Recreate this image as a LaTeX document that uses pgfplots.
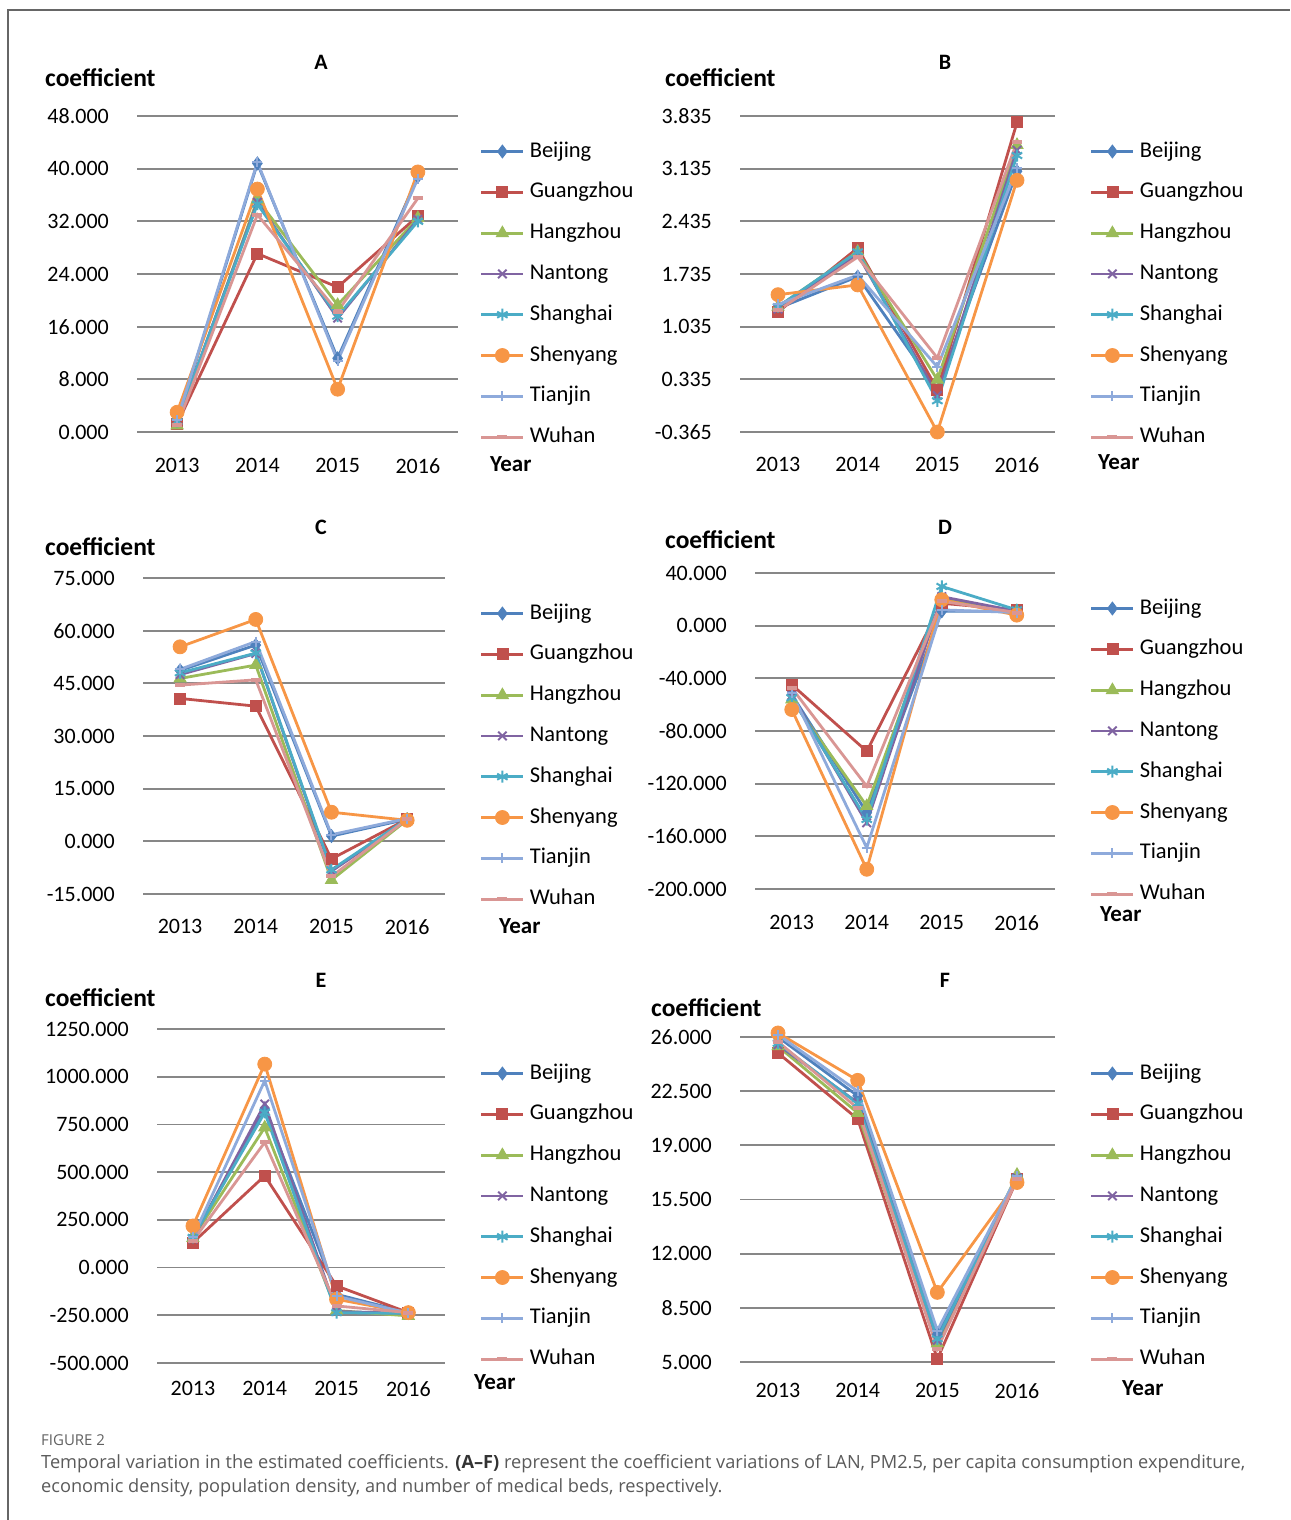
\documentclass[border=0pt]{standalone}
\usepackage{fontspec}
\setmainfont{Carlito}
\newfontfamily\capfont{Open Sans}
\usepackage{pgfplots}
\usepackage{pgfplotstable}
\pgfplotsset{compat=1.18}

\definecolor{cBJ}{HTML}{4F81BD}
\definecolor{cGZ}{HTML}{C0504D}
\definecolor{cHZ}{HTML}{9BBB59}
\definecolor{cNT}{HTML}{8064A2}
\definecolor{cSH}{HTML}{4BACC6}
\definecolor{cSY}{HTML}{F79646}
\definecolor{cTJ}{HTML}{8EAADB}
\definecolor{cWH}{HTML}{D99694}
\definecolor{capgray}{HTML}{5A5A5A}

\pgfplotstableread{
x BJ GZ HZ NT SH SY TJ WH
0 1.5 1.2 1.0 1.5 1.6 3.0 1.8 1.0
1 40.8 27.1 35.3 34.9 34.6 36.9 41.0 33.0
2 11.2 22.0 19.3 17.3 17.6 6.5 10.8 18.3
3 38.8 32.8 32.5 32.3 32.0 39.5 38.5 35.5
}\tA
\pgfplotstableread{
x BJ GZ HZ NT SH SY TJ WH
0 1.28 1.23 1.30 1.27 1.30 1.46 1.33 1.25
1 1.70 2.08 2.03 2.00 2.03 1.59 1.72 1.96
2 0.19 0.20 0.33 0.12 0.05 -0.365 0.50 0.62
3 3.10 3.75 3.45 3.38 3.31 2.98 3.14 3.49
}\tB
\pgfplotstableread{
x BJ GZ HZ NT SH SY TJ WH
0 48.7 40.7 46.4 47.5 48.0 55.4 49.0 44.5
1 55.9 38.5 50.2 53.5 53.6 63.2 56.9 46.0
2 1.5 -5.0 -11.0 -8.5 -8.1 8.3 1.9 -10.0
3 6.3 6.3 6.1 6.2 6.4 6.0 6.5 6.3
}\tC
\pgfplotstableread{
x BJ GZ HZ NT SH SY TJ WH
0 -52.3 -44.8 -56.1 -53.0 -54.8 -63.7 -51.0 -47.3
1 -142 -95.4 -137 -149.7 -147.2 -185 -168.7 -122
2 10.9 17 20 22 29.8 19.7 12 18.5
3 11 12 11 11 12 8 10 10
}\tD
\pgfplotstableread{
x BJ GZ HZ NT SH SY TJ WH
0 158 131 155 150 158 218 160 140
1 830 481 734 857 813 1066 979 656
2 -140 -96 -225 -230 -236 -166 -150 -201
3 -236 -236 -253 -240 -240 -236 -238 -236
}\tE
\pgfplotstableread{
x BJ GZ HZ NT SH SY TJ WH
0 26.0 24.97 25.4 25.5 25.6 26.26 26.15 25.7
1 22.2 20.7 21.1 21.75 21.7 23.2 22.5 21.4
2 6.8 5.2 6.2 6.4 6.5 9.5 7.03 5.85
3 16.9 16.8 17.1 16.9 16.9 16.6 17.0 16.8
}\tF

\pgfplotsset{
 sBJ/.style={color=cBJ, line width=2.8pt, mark=diamond*, mark size=6.5pt, mark options={solid, line width=0.8pt}},
 sGZ/.style={color=cGZ, line width=2.8pt, mark=square*, mark size=5.5pt, mark options={solid, line width=0.8pt}},
 sHZ/.style={color=cHZ, line width=2.8pt, mark=triangle*, mark size=7pt, mark options={solid, line width=0.8pt}},
 sNT/.style={color=cNT, line width=2.8pt, mark=x, mark size=6pt, mark options={solid, line width=2pt}},
 sSH/.style={color=cSH, line width=2.8pt, mark=asterisk, mark size=6pt, mark options={solid, line width=2pt}},
 sSY/.style={color=cSY, line width=2.8pt, mark=*, mark size=7pt, mark options={solid, line width=0.8pt}},
 sTJ/.style={color=cTJ, line width=2.8pt, mark=+, mark size=5pt, mark options={solid, line width=2pt}},
 sWH/.style={color=cWH, line width=2.8pt, mark=-, mark size=5pt, mark options={solid, line width=4pt}},
 panel/.style={
  scale only axis, anchor=south west, clip=false,
  axis line style={draw=none}, major tick length=0pt, tick style={draw=none},
  ymajorgrids, grid style={color=black!47, line width=1.8pt},
  xtick={0,1,2,3}, xticklabels={2013,2014,2015,2016},
  tick label style={font=\fontsize{22}{26}\selectfont},
  yticklabel style={anchor=east, inner sep=0pt, xshift=-28pt},
  xticklabel style={anchor=north, inner sep=0pt},
  legend cell align=left,
  legend image code/.code={\draw[mark repeat=2,mark phase=2,##1] plot coordinates {(0pt,0pt) (21pt,0pt) (42pt,0pt)};},
  legend style={draw=none, fill=none, anchor=north west, inner sep=0pt, outer sep=0pt,
    row sep=19.8pt, column sep=5pt, font=\fontsize{22.5}{26}\selectfont,
    nodes={inner sep=0pt, text height=16pt, text depth=5pt}},
 }
}

\newcommand{\plotall}[1]{%
 \addplot[sBJ] table[x=x,y=BJ]{#1};
 \addplot[sGZ] table[x=x,y=GZ]{#1};
 \addplot[sHZ] table[x=x,y=HZ]{#1};
 \addplot[sNT] table[x=x,y=NT]{#1};
 \addplot[sSH] table[x=x,y=SH]{#1};
 \addplot[sSY] table[x=x,y=SY]{#1};
 \addplot[sTJ] table[x=x,y=TJ]{#1};
 \addplot[sWH] table[x=x,y=WH]{#1};
 \legend{Beijing,Guangzhou,Hangzhou,Nantong,Shanghai,Shenyang,Tianjin,Wuhan}
}

\begin{document}
\begin{tikzpicture}
\useasboundingbox (0pt,0pt) rectangle (1290pt,-1520pt);
\draw[color=black!60, line width=1.3pt] (8pt,-1520pt) -- (8pt,-10pt) -- (1290pt,-10pt);

% A
\begin{axis}[panel, at={(137pt,-432pt)}, width=321pt, height=316pt,
  xmin=-0.5, xmax=3.5, ymin=0, ymax=48, ytick={0,8,16,24,32,40,48},
  yticklabels={0.000,8.000,16.000,24.000,32.000,40.000,48.000},
  xticklabel style={yshift=-26pt},
  legend style={at={(1.0685,0.9209)}}]
\plotall{\tA}
\end{axis}
% B
\begin{axis}[panel, at={(740pt,-432pt)}, width=315pt, height=316pt,
  xmin=-0.477, xmax=3.477, ymin=-0.365, ymax=3.835, ytick={-0.365,0.335,1.035,1.735,2.435,3.135,3.835},
  yticklabels={-0.365,0.335,1.035,1.735,2.435,3.135,3.835},
  xticklabel style={yshift=-25pt},
  legend style={at={(1.1111,0.9209)}}]
\plotall{\tB}
\end{axis}
% C
\begin{axis}[panel, at={(143pt,-894pt)}, width=302pt, height=316pt,
  xmin=-0.49, xmax=3.5, ymin=-15, ymax=75, ytick={-15,0,15,30,45,60,75},
  yticklabels={-15.000,0.000,15.000,30.000,45.000,60.000,75.000},
  xticklabel style={yshift=-25pt},
  legend style={at={(1.1159,0.9209)}}]
\plotall{\tC}
\end{axis}
% D
\begin{axis}[panel, at={(755pt,-889pt)}, width=300pt, height=316pt,
  xmin=-0.49, xmax=3.51, ymin=-200, ymax=40, ytick={-200,-160,-120,-80,-40,0,40},
  yticklabels={-200.000,-160.000,-120.000,-80.000,-40.000,0.000,40.000},
  xticklabel style={yshift=-26pt},
  legend style={at={(1.1167,0.9209)}}]
\plotall{\tD}
\end{axis}
% E
\begin{axis}[panel, at={(157pt,-1363pt)}, width=288pt, height=334pt,
  xmin=-0.5, xmax=3.51, ymin=-500, ymax=1250, ytick={-500,-250,0,250,500,750,1000,1250},
  yticklabels={-500.000,-250.000,0.000,250.000,500.000,750.000,1000.000,1250.000},
  xticklabel style={yshift=-18pt},
  legend style={at={(1.1215,0.8982)}}]
\plotall{\tE}
\end{axis}
% F
\begin{axis}[panel, at={(740pt,-1362pt)}, width=315pt, height=325pt,
  xmin=-0.477, xmax=3.477, ymin=5, ymax=26, ytick={5,8.5,12,15.5,19,22.5,26},
  yticklabels={5.000,8.500,12.000,15.500,19.000,22.500,26.000},
  xticklabel style={yshift=-21pt},
  legend style={at={(1.1111,0.92)}}]
\plotall{\tF}
\end{axis}

\tikzset{lab/.style={font=\fontsize{25.5}{30}\selectfont\bfseries, inner sep=0pt}}
% coefficient labels
\node[lab, anchor=west] at (45pt,-78pt) {coefficient};
\node[lab, anchor=west] at (665pt,-78pt) {coefficient};
\node[lab, anchor=west] at (45pt,-547pt) {coefficient};
\node[lab, anchor=west] at (665pt,-540pt) {coefficient};
\node[lab, anchor=west] at (45pt,-998pt) {coefficient};
\node[lab, anchor=west] at (651pt,-1008pt) {coefficient};
% panel letters
\node[lab, font=\fontsize{22}{26}\selectfont\bfseries] at (321pt,-62pt) {A};
\node[lab, font=\fontsize{22}{26}\selectfont\bfseries] at (945pt,-62pt) {B};
\node[lab, font=\fontsize{22}{26}\selectfont\bfseries] at (321pt,-527pt) {C};
\node[lab, font=\fontsize{22}{26}\selectfont\bfseries] at (945pt,-527pt) {D};
\node[lab, font=\fontsize{22}{26}\selectfont\bfseries] at (321pt,-980pt) {E};
\node[lab, font=\fontsize{22}{26}\selectfont\bfseries] at (945pt,-980pt) {F};
% Year labels
\node[lab, anchor=west, font=\fontsize{23}{27}\selectfont\bfseries] at (490pt,-464pt) {Year};
\node[lab, anchor=west, font=\fontsize{23}{27}\selectfont\bfseries] at (1098pt,-462pt) {Year};
\node[lab, anchor=west, font=\fontsize{23}{27}\selectfont\bfseries] at (499pt,-926pt) {Year};
\node[lab, anchor=west, font=\fontsize{23}{27}\selectfont\bfseries] at (1100pt,-914pt) {Year};
\node[lab, anchor=west, font=\fontsize{23}{27}\selectfont\bfseries] at (474pt,-1382pt) {Year};
\node[lab, anchor=west, font=\fontsize{23}{27}\selectfont\bfseries] at (1122pt,-1388pt) {Year};

% caption
\node[anchor=base west, inner sep=0pt, text=black!62, font=\capfont\fontsize{15}{17}\selectfont] at (41pt,-1445pt) {FIGURE 2};
\node[anchor=base west, inner sep=0pt, text=capgray, font=\capfont\fontsize{18.2}{21}\selectfont] at (41pt,-1468pt) {Temporal variation in the estimated coefficients. {\bfseries\color{black!80}(A–F)} represent the coefficient variations of LAN, PM2.5, per capita consumption expenditure,};
\node[anchor=base west, inner sep=0pt, text=capgray, font=\capfont\fontsize{18.2}{21}\selectfont] at (41pt,-1492pt) {economic density, population density, and number of medical beds, respectively.};
\end{tikzpicture}
\end{document}
